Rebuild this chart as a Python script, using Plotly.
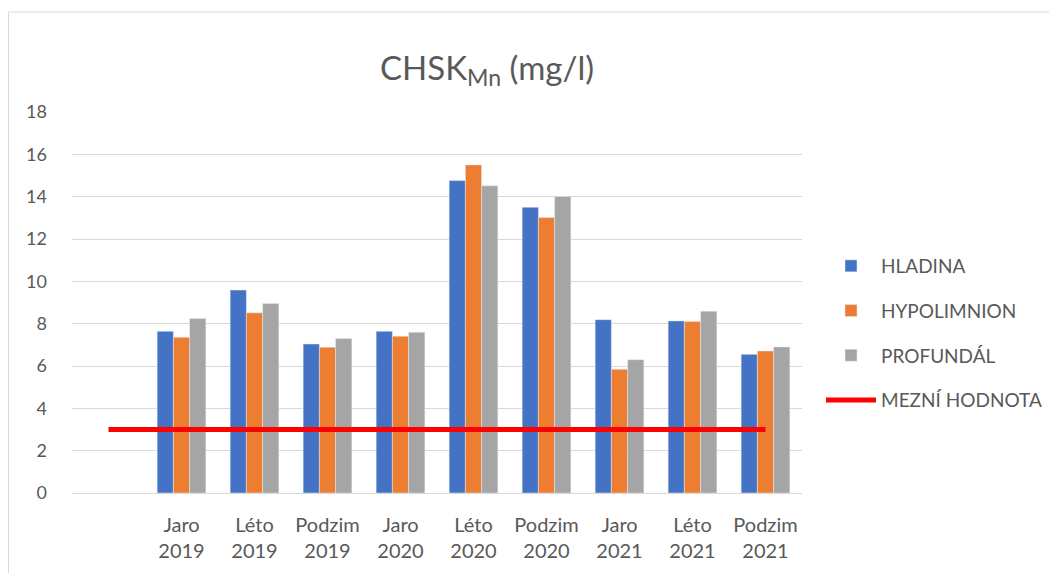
import plotly.graph_objects as go

categories = ["", "Jaro<br>2019", "Léto<br>2019", "Podzim<br>2019", "Jaro<br>2020", "Léto<br>2020",
              "Podzim<br>2020", "Jaro<br>2021", "Léto<br>2021", "Podzim<br>2021"]
hladina = [None, 7.64, 9.59, 7.04, 7.64, 14.76, 13.5, 8.19, 8.13, 6.55]
hypolimnion = [None, 7.36, 8.51, 6.89, 7.41, 15.5, 13.01, 5.85, 8.10, 6.71]
profundal = [None, 8.24, 8.95, 7.30, 7.59, 14.51, 14.01, 6.30, 8.59, 6.90]
mezni = [3, 3, 3, 3, 3, 3, 3, 3, 3, 3]

FONT = "Lato"
TXT = "#595959"

fig = go.Figure()
fig.add_trace(go.Bar(x=categories, y=hladina, name="HLADINA", marker_color="#4472C4", legendgroup="a"))
fig.add_trace(go.Bar(x=categories, y=hypolimnion, name="HYPOLIMNION", marker_color="#ED7D31", legendgroup="b"))
fig.add_trace(go.Bar(x=categories, y=profundal, name="PROFUNDÁL", marker_color="#A5A5A5", legendgroup="c"))
fig.add_trace(go.Scatter(x=categories, y=mezni, name="MEZNÍ HODNOTA", mode="lines",
                         line=dict(color="#FF0000", width=5), legendgroup="d"))

# page body has an 8px margin; figure coordinates are offset accordingly
OFF = 8
W, H = 1057 - OFF, 573 - OFF
L, R, T, B = 72 - OFF, 802 - OFF, 112 - OFF, 493 - OFF

fig.update_layout(
    width=W, height=H,
    margin=dict(l=L, r=W - R, t=T, b=H - B, autoexpand=False),
    paper_bgcolor="white", plot_bgcolor="white",
    font=dict(family=FONT, color=TXT, size=18),
    barmode="group", bargap=0.333, bargroupgap=0,
    title=dict(text="CHSK<sub>Mn</sub> (mg/l)", x=(487 - OFF) / W, xanchor="center",
               y=1 - (68 - OFF) / H, yanchor="middle", font=dict(size=33, color=TXT, family=FONT)),
    xaxis=dict(type="category", showgrid=False, showline=True, linecolor="#D9D9D9", linewidth=1,
               ticks="", tickvals=categories[1:], ticktext=categories[1:],
               tickfont=dict(size=20), ticklabelstandoff=14, fixedrange=True),
    yaxis=dict(range=[0, 18], dtick=2, showgrid=True, gridcolor="#D9D9D9", gridwidth=1,
               zeroline=False, showline=False, ticks="", tickfont=dict(size=18),
               ticklabelstandoff=24),
    legend=dict(xref="container", yref="container",
                x=(821 - OFF) / W, xanchor="left", y=1 - (239) / H, yanchor="top",
                font=dict(size=19, color=TXT), tracegroupgap=17, itemwidth=50,
                bgcolor="rgba(0,0,0,0)"),
    showlegend=True,
    shapes=[dict(type="rect", xref="paper", yref="paper",
                 x0=(0.5 - L) / (R - L), x1=(W + 20 - L) / (R - L),
                 y0=(B - (H + 20)) / (B - T), y1=(B - (12 - OFF)) / (B - T),
                 line=dict(color="#D9D9D9", width=1), fillcolor="rgba(0,0,0,0)", layer="below")],
)

fig.write_html("out.html")
